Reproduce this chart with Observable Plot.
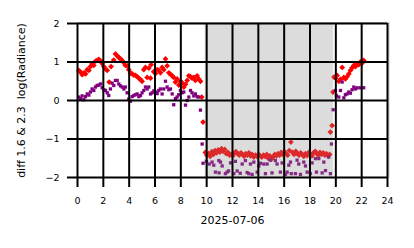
<!DOCTYPE html>
<html>
<head>
<meta charset="utf-8">
<script src="https://cdn.jsdelivr.net/npm/d3@7"></script>
<script src="https://cdn.jsdelivr.net/npm/@observablehq/plot@0.6"></script>
<style>
  html, body { margin: 0; padding: 0; background: #fff; }
  svg { font-family: "DejaVu Sans", sans-serif; }
</style>
</head>
<body>
<div id="chart"></div>
<script>
const xTicks = [0, 2, 4, 6, 8, 10, 12, 14, 16, 18, 20, 22, 24];
const yTicks = [-2, -1, 0, 1, 2];
const yTickLabels = ["−2", "−1", "0", "1", "2"];
const xLabel = ["2025-07-06"];
const yLabel = ["diff 1.6 & 2.3  log(Radiance)"];
const shadeStart = [9.88];
const shadeEnd = [19.84];

const redHours = [
  0.10, 0.23, 0.36, 0.50, 0.62, 0.75, 0.88, 1.00, 1.13, 1.26, 1.39, 1.52, 1.65, 1.78, 1.91,
  2.04, 2.17, 2.30, 2.45, 2.60, 2.80, 2.94, 3.07, 3.20, 3.33, 3.46, 3.60, 3.71, 3.85, 3.97,
  4.10, 4.23, 4.36, 4.49, 4.62, 4.75, 4.88, 5.00, 5.13, 5.26, 5.39, 5.52, 5.65, 5.70, 5.90,
  6.04, 6.17, 6.29, 6.42, 6.55, 6.68, 6.81, 6.94, 7.07, 7.20, 7.33, 7.45, 7.58, 7.71, 7.84,
  7.97, 8.10, 8.23, 8.36, 8.49, 8.62, 8.75, 8.87, 9.00, 9.13, 9.26, 9.39, 9.52, 9.62, 9.72,
  9.90, 10.02, 10.15, 10.27, 10.40, 10.52, 10.65, 10.77, 10.90, 11.02, 11.15, 11.27, 11.40,
  11.52, 11.65, 11.77, 11.90, 12.02, 12.15, 12.27, 12.40, 12.52, 12.65, 12.77, 12.90, 13.02,
  13.15, 13.27, 13.40, 13.52, 13.65, 13.77, 13.90, 14.02, 14.15, 14.27, 14.40, 14.52, 14.65,
  14.77, 14.90, 15.02, 15.15, 15.27, 15.40, 15.52, 15.65, 15.77, 15.90, 16.02, 16.15, 16.27,
  16.40, 16.52, 16.65, 16.77, 16.90, 17.02, 17.15, 17.27, 17.40, 17.52, 17.65, 17.77, 17.90,
  18.02, 18.15, 18.27, 18.40, 18.52, 18.65, 18.77, 18.90, 19.02, 19.15, 19.27, 19.40, 19.52,
  19.58, 19.71, 19.78, 19.86, 19.97, 20.10, 20.23, 20.36, 20.49, 20.62, 20.74, 20.87, 21.00,
  21.13, 21.26, 21.39, 21.52, 21.65, 21.78, 21.90, 22.03, 22.16
];
const redValues = [
  0.78, 0.74, 0.67, 0.72, 0.69, 0.80, 0.78, 0.88, 0.95, 0.91, 1.02, 1.04, 1.07, 1.03, 0.96,
  0.88, 0.82, 0.78, 0.48, 0.88, 1.05, 1.21, 1.16, 1.12, 1.08, 1.04, 0.98, 0.91, 0.90, 0.80,
  0.72, 0.69, 0.66, 0.65, 0.62, 0.58, 0.54, 0.50, 0.80, 0.86, 0.60, 0.84, 0.58, 0.93, 0.75,
  0.70, 0.80, 0.78, 0.72, 0.86, 0.80, 1.08, 0.90, 0.72, 0.68, 0.64, 0.60, 0.48, 0.56, 0.40,
  0.50, 0.46, 0.35, 0.42, 0.52, 0.64, 0.62, 0.58, 0.60, 0.52, 0.64, 0.56, 0.50, 0.09, -0.56,
  -1.35, -1.42, -1.38, -1.45, -1.33, -1.40, -1.30, -1.36, -1.28, -1.34, -1.25, -1.32, -1.27,
  -1.38, -1.35, -1.42, -1.40, -1.44, -1.37, -1.33, -1.38, -1.42, -1.36, -1.40, -1.45, -1.38,
  -1.42, -1.36, -1.44, -1.40, -1.47, -1.42, -1.45, -1.40, -1.44, -1.47, -1.42, -1.45, -1.40,
  -1.50, -1.44, -1.52, -1.47, -1.40, -1.44, -1.38, -1.42, -1.35, -1.40, -1.33, -1.38, -1.42,
  -1.30, -1.08, -1.35, -1.40, -1.32, -1.38, -1.42, -1.36, -1.40, -1.45, -1.38, -1.43, -1.35,
  -1.40, -1.44, -1.36, -1.32, -1.38, -1.42, -1.35, -1.40, -1.36, -1.42, -1.38, -1.44, -1.40,
  -0.82, -0.65, 0.22, 0.61, 0.58, 0.65, 0.50, 0.55, 0.86, 0.60, 0.56, 0.62, 0.69,
  0.78, 0.85, 0.91, 0.88, 0.95, 0.93, 1.00, 0.97, 1.04
];

const purpleHours = [
  0.10, 0.23, 0.36, 0.49, 0.62, 0.75, 0.88, 1.00, 1.13, 1.26, 1.39, 1.52, 1.65, 1.78, 1.91,
  2.04, 2.17, 2.30, 2.42, 2.55, 2.68, 2.81, 2.94, 3.07, 3.20, 3.33, 3.46, 3.59, 3.71, 3.84,
  3.97, 4.10, 4.23, 4.36, 4.49, 4.62, 4.75, 4.88, 5.00, 5.13, 5.26, 5.39, 5.52, 5.65, 5.78,
  5.91, 6.04, 6.17, 6.29, 6.42, 6.55, 6.68, 6.81, 6.94, 7.07, 7.20, 7.33, 7.45, 7.58, 7.71,
  7.84, 7.97, 8.10, 8.23, 8.36, 8.49, 8.62, 8.75, 8.87, 9.00, 9.13, 9.26, 9.39, 9.52, 9.65,
  9.72, 9.98, 10.20, 10.42, 10.55, 10.68, 10.94, 10.96, 11.07, 11.20, 11.45, 11.58, 11.70,
  11.85, 12.10, 12.23, 12.36, 12.60, 12.75, 13.00, 13.13, 13.26, 13.39, 13.52, 13.65, 13.91,
  14.04, 14.16, 14.42, 14.55, 14.68, 14.94, 15.06, 15.32, 15.45, 15.71, 15.84, 16.10, 16.23,
  16.36, 16.49, 16.55, 16.87, 17.00, 17.13, 17.26, 17.52, 17.65, 17.78, 18.03, 18.16, 18.42,
  18.50, 18.68, 18.94, 19.07, 19.20, 19.45, 19.58, 19.66, 19.79, 19.97, 20.04, 20.23, 20.36,
  20.49, 20.62, 20.74, 20.87, 21.00, 21.13, 21.26, 21.39, 21.52, 21.65, 21.90, 22.16
];
const purpleValues = [
  0.09, 0.05, 0.12, 0.02, 0.10, 0.17, 0.14, 0.22, 0.30, 0.26, 0.35, 0.39, 0.40, 0.43, 0.33,
  0.28, 0.26, 0.20, 0.13, 0.30, 0.45, 0.39, 0.52, 0.52, 0.43, 0.38, 0.35, 0.30, 0.35, 0.20,
  0.04, -0.02, 0.10, 0.13, 0.15, 0.17, 0.10, 0.13, 0.20, 0.26, 0.35, 0.30, 0.35, 0.17, 0.20,
  0.25, 0.22, 0.18, 0.26, 0.30, 0.17, 0.30, 0.50, 0.35, 0.28, 0.30, 0.17, -0.11, 0.05, 0.09,
  0.15, 0.26, 0.20, 0.22, -0.12, 0.00, 0.09, 0.26, 0.20, 0.12, 0.17, 0.10, 0.09, -0.25, -1.13,
  -1.63, -1.58, -1.65, -1.60, -1.68, -1.86, -1.56, -1.88, -1.60, -1.70, -1.90, -1.86, -1.83,
  -1.62, -1.90, -1.58, -1.83, -1.89, -1.65, -1.56, -1.87, -1.90, -1.65, -1.92, -1.60, -1.86,
  -1.70, -1.63, -1.65, -1.90, -1.65, -1.55, -1.88, -1.56, -1.65, -1.86, -1.62, -1.92, -1.86,
  -1.68, -1.60, -1.90, -1.90, -1.55, -1.65, -1.92, -1.60, -1.70, -1.86, -1.90, -1.62, -1.51,
  -1.86, -1.51, -1.88, -1.60, -1.82, -1.47, -1.90, -1.13, -0.24, 0.26, 0.13, 0.09, 0.26,
  0.48, 0.07, 0.15, 0.17, 0.22, 0.19, 0.28, 0.35, 0.30, 0.33, 0.33, 0.33
];

const red = redHours.map((h, i) => ({h, v: redValues[i]}));
const purple = purpleHours.map((h, i) => ({h, v: purpleValues[i]}));
const shade = shadeStart.map((s, i) => ({x1: s, x2: shadeEnd[i]}));

const chart = Plot.plot({
  width: 414,
  height: 248,
  marginLeft: 77,
  marginRight: 27,
  marginTop: 23,
  marginBottom: 71,
  style: {fontFamily: "DejaVu Sans, sans-serif", background: "#fff", color: "#000"},
  x: {domain: [0, 24]},
  y: {domain: [-2, 2]},
  marks: [
    Plot.frame({stroke: "#cccccc", strokeWidth: 1, insetRight: -1.5, insetTop: -1}),
    Plot.dot(red, {x: "h", y: "v", symbol: "diamond2", r: 2.6, fill: "#ff0000", stroke: "none"}),
    Plot.dot(purple, {x: "h", y: "v", symbol: "square", r: 1.85, fill: "#800080", stroke: "none"}),
    Plot.rect(shade, {x1: "x1", x2: "x2", fill: "#8c8c8c", fillOpacity: 0.3}),
    Plot.ruleX(xTicks, {stroke: "#000", strokeWidth: 2}),
    Plot.ruleY(yTicks, {stroke: "#000", strokeWidth: 2}),
    Plot.axisX(xTicks, {tickSize: 10, tickPadding: 10, strokeWidth: 2, fontSize: 9.5, label: null}),
    Plot.axisY(yTicks, {tickSize: 10, tickPadding: 8, strokeWidth: 2, fontSize: 9.5, label: null,
      tickFormat: (d) => yTickLabels[yTicks.indexOf(d)]}),
    Plot.axisY([], {tickSize: 0, fontSize: 11, label: yLabel[0], labelAnchor: "center",
      labelArrow: "none", labelOffset: 60}),
    Plot.text(xLabel, {text: (d) => d, frameAnchor: "bottom", dy: 46, fontSize: 11, fill: "#000"})
  ]
});
document.getElementById("chart").appendChild(chart);
</script>
</body>
</html>
